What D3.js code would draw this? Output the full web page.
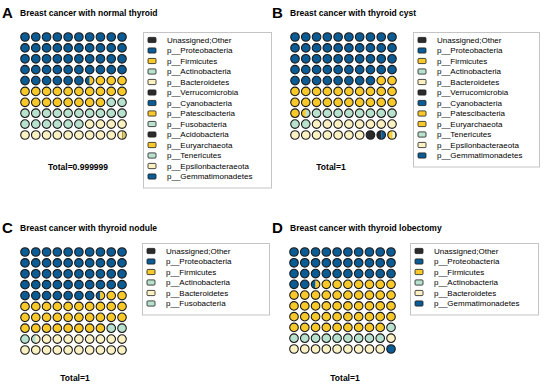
<!DOCTYPE html>
<html>
<head>
<meta charset="utf-8">
<script src="https://cdn.jsdelivr.net/npm/d3@7"></script>
<style>
  body { margin: 0; background: #fff; }
  text { font-family: "Liberation Sans", Arial, sans-serif; }
</style>
</head>
<body>
<script>
// phyla in legend order, one color per phylum
var phyla = ['Unassigned;Other', 'Proteobacteria', 'Firmicutes', 'Actinobacteria', 'Bacteroidetes',
  'Verrucomicrobia', 'Cyanobacteria', 'Patescibacteria', 'Fusobacteria', 'Acidobacteria',
  'Euryarchaeota', 'Tenericutes', 'Epsilonbacteraeota', 'Gemmatimonadetes']
var phylaColors = ['#2b2b2b', '#0b5b94', '#f9c92a', '#b8e2cd', '#fcf1c2',
  '#2b2b2b', '#0b5b94', '#f9c92a', '#b8e2cd', '#2b2b2b',
  '#f9c92a', '#b8e2cd', '#fcf1c2', '#0b5b94']

// panel A: normal thyroid (percent of reads)
var namesA = ['Unassigned;Other', 'Proteobacteria', 'Firmicutes', 'Actinobacteria', 'Bacteroidetes',
  'Verrucomicrobia', 'Cyanobacteria', 'Patescibacteria', 'Fusobacteria', 'Acidobacteria',
  'Euryarchaeota', 'Tenericutes', 'Epsilonbacteraeota', 'Gemmatimonadetes']
var valuesA = [0.02, 46.5, 21.5, 18, 13.5, 0.05, 0.04, 0.2, 0.03, 0.02, 0.1, 0.02, 0.01, 0.01]

// panel B: thyroid cyst
var namesB = ['Unassigned;Other', 'Proteobacteria', 'Firmicutes', 'Actinobacteria', 'Bacteroidetes',
  'Verrucomicrobia', 'Cyanobacteria', 'Patescibacteria', 'Euryarchaeota', 'Tenericutes',
  'Epsilonbacteraeota', 'Gemmatimonadetes']
var valuesB = [0.1, 48, 23.5, 10.5, 15, 1.5, 0.5, 0.3, 0.25, 0.05, 0.25, 0.05]

// panel C: thyroid nodule
var namesC = ['Unassigned;Other', 'Proteobacteria', 'Firmicutes', 'Actinobacteria', 'Bacteroidetes', 'Fusobacteria']
var valuesC = [0.05, 47.5, 30.5, 3.5, 18.4, 0.05]

// panel D: thyroid lobectomy
var namesD = ['Unassigned;Other', 'Proteobacteria', 'Firmicutes', 'Actinobacteria', 'Bacteroidetes', 'Gemmatimonadetes']
var valuesD = [0.03, 32.5, 46.5, 10, 10, 0.97]

var letters = ['A', 'B', 'C', 'D']
var titles = ['Breast cancer with normal thyroid', 'Breast cancer with thyroid cyst',
  'Breast cancer with thyroid nodule', 'Breast cancer with thyroid lobectomy']
var totals = ['Total=0.999999', 'Total=1', 'Total=1', 'Total=1']

var color = d3.scaleOrdinal().domain(phyla).range(phylaColors)

var width = 550, height = 390
var svg = d3.select('body').append('svg')
  .attr('width', width)
  .attr('height', height)
var defs = svg.append('defs')

var panels = [
  { names: namesA, values: valuesA, ox: 0, oy: 0, gx: [25, 122], gy: [37, 135], tx: 78, ty: 170, lx: [143, 271], ly: 32 },
  { names: namesB, values: valuesB, ox: 270, oy: 0, gx: [295, 392], gy: [37, 135], tx: 331, ty: 170, lx: [413, 539], ly: 32 },
  { names: namesC, values: valuesC, ox: 0, oy: 215, gx: [25, 122], gy: [252, 350], tx: 75, ty: 381, lx: [142, 269], ly: 243 },
  { names: namesD, values: valuesD, ox: 270, oy: 215, gx: [294, 391], gy: [252, 349], tx: 345, ty: 381, lx: [410, 538], ly: 243 }
]

var r = 4.3
var rowH = 10.5

panels.forEach(function (p, pi) {
  var g = svg.append('g')

  // letter + title
  g.append('text')
    .attr('x', p.ox + 2).attr('y', p.oy + 18)
    .style('font-size', '15px').style('font-weight', 'bold')
    .text(letters[pi])
  g.append('text')
    .attr('x', p.ox + 20).attr('y', p.oy + 16)
    .style('font-size', '8.5px').style('font-weight', 'bold')
    .text(titles[pi])

  // waffle order: legend order with Unassigned;Other at the end
  var order = p.names.map(function (n, i) { return { name: n, value: p.values[i] } })
  order = order.slice(1).concat(order.slice(0, 1))
  var ends = d3.cumsum(order, function (d) { return d.value })
  order.forEach(function (d, i) { d.start = i ? ends[i - 1] : 0; d.end = ends[i] })

  var x = d3.scalePoint().domain(d3.range(10)).range(p.gx)
  var y = d3.scalePoint().domain(d3.range(10)).range(p.gy)

  var cells = d3.range(100).map(function (i) {
    var segs = order.filter(function (d) { return d.end > i && d.start < i + 1 })
      .map(function (d) { return { name: d.name, a: Math.max(d.start, i) - i, b: Math.min(d.end, i + 1) - i } })
    return { i: i, col: i % 10, row: Math.floor(i / 10), segs: segs }
  })

  var cell = g.selectAll('g.cell')
    .data(cells)
    .enter().append('g')
    .attr('class', 'cell')
    .attr('transform', function (d) { return 'translate(' + x(d.col) + ',' + y(d.row) + ')' })

  cell.each(function (d) {
    var id = 'clip' + pi + '_' + d.i
    defs.append('clipPath').attr('id', id)
      .append('circle').attr('r', r)
    d3.select(this).selectAll('rect')
      .data(d.segs)
      .enter().append('rect')
      .attr('clip-path', 'url(#' + id + ')')
      .attr('x', function (s) { return -r + s.a * 2 * r })
      .attr('y', -r)
      .attr('width', function (s) { return (s.b - s.a) * 2 * r })
      .attr('height', 2 * r)
      .attr('fill', function (s) { return color(s.name) })
  })

  cell.append('circle')
    .attr('r', r)
    .attr('fill', 'none')
    .attr('stroke', '#1a1a1a')
    .attr('stroke-width', 1.1)

  // total label
  g.append('text')
    .attr('x', p.tx).attr('y', p.ty)
    .attr('text-anchor', 'middle')
    .style('font-size', '8.5px').style('font-weight', 'bold')
    .text(totals[pi])

  // legend
  var boxH = 8 + (p.names.length - 1) * rowH + 11
  g.append('rect')
    .attr('x', p.lx[0] + 0.5).attr('y', p.ly + 0.5)
    .attr('width', p.lx[1] - p.lx[0]).attr('height', boxH)
    .attr('fill', '#fff')
    .attr('stroke', '#c4c4c4')

  var item = g.selectAll('g.item')
    .data(p.names)
    .enter().append('g')
    .attr('class', 'item')
    .attr('transform', function (d, i) { return 'translate(' + (p.lx[0] + 5) + ',' + (p.ly + 8 + i * rowH) + ')' })

  item.append('rect')
    .attr('x', 0).attr('y', -2.6)
    .attr('width', 8).attr('height', 5.2)
    .attr('rx', 1)
    .attr('fill', function (d) { return color(d) })
    .attr('stroke', '#1a1a1a')
    .attr('stroke-width', 0.8)

  item.append('text')
    .attr('x', 19).attr('dy', '0.35em')
    .style('font-size', '8px')
    .text(function (d) { return d === 'Unassigned;Other' ? d : 'p__' + d })
})
</script>
</body>
</html>
